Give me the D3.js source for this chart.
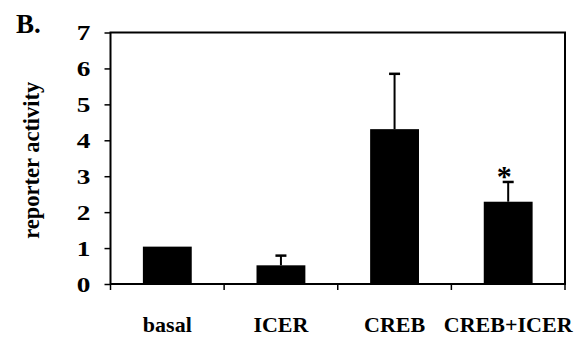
<!DOCTYPE html>
<head>
<meta charset="utf-8">
<style>
body { margin: 0; background: #fff; }
svg { display: block; font-family: "Liberation Serif", "Times New Roman", serif; font-weight: bold; }
.axis path, .axis line { stroke: #000; stroke-width: 1.5px; }
.axis text { font-family: "Liberation Serif", "Times New Roman", serif; font-size: 21px; fill: #000; }
.xlab text { font-size: 22px; fill: #000; }
</style>
</head>
<body>
<svg width="582" height="341"></svg>
<script src="https://d3js.org/d3.v7.min.js"></script>
<script>
var categories = ["basal", "ICER", "CREB", "CREB+ICER"];
var values = [1.04, 0.52, 4.31, 2.29];
var errors = [0, 0.27, 1.54, 0.55];
var starred = [false, false, false, true];
var yTicks = [0, 1, 2, 3, 4, 5, 6, 7];

var svg = d3.select("svg");
var margin = {left: 110.5, right: 17, top: 32.5, bottom: 57};
var width = 582 - margin.left - margin.right,
    height = 341 - margin.top - margin.bottom;

var g = svg.append("g")
    .attr("transform", "translate(" + margin.left + "," + margin.top + ")");

var x = d3.scaleBand().domain(categories).range([0, width]).paddingInner(0.57).paddingOuter(0.285);
var xTick = d3.scaleLinear().domain([0, categories.length]).range([0, width]);
var y = d3.scaleLinear().domain([0, 7]).range([height, 0]);

// frame
g.append("rect")
    .attr("width", width).attr("height", height)
    .attr("fill", "none").attr("stroke", "#000").attr("stroke-width", 2);

// y axis
var yAxis = g.append("g").attr("class", "axis")
    .call(d3.axisLeft(y).tickValues(yTicks).tickSize(6).tickFormat(d3.format("d")));
yAxis.select(".domain").remove();
// the digits in the original are wide, stretch them a bit
yAxis.selectAll("text")
    .attr("x", 0)
    .attr("dy", "0.35em")
    .attr("transform", "translate(-20,0) scale(1.3,1)");

// x ticks at band boundaries
g.append("g").attr("class", "axis")
    .selectAll("line")
    .data(d3.range(categories.length + 1))
    .enter().append("line")
    .attr("x1", function(d) { return xTick(d); })
    .attr("x2", function(d) { return xTick(d); })
    .attr("y1", height).attr("y2", height + 6);

// x labels
g.append("g").attr("class", "xlab")
    .selectAll("text")
    .data(categories)
    .enter().append("text")
    .attr("x", function(d) { return x(d) + x.bandwidth() / 2; })
    .attr("y", height + 48)
    .attr("text-anchor", "middle")
    .text(function(d) { return d; });

// bars
g.selectAll(".bar")
    .data(values)
    .enter().append("rect")
    .attr("class", "bar")
    .attr("x", function(d, i) { return x(categories[i]); })
    .attr("width", x.bandwidth())
    .attr("y", function(d) { return y(d); })
    .attr("height", function(d) { return height - y(d); })
    .attr("fill", "#000");

// error bars (upward only)
var err = g.selectAll(".err")
    .data(values.map(function(v, i) { return {v: v, e: errors[i], c: categories[i], s: starred[i]}; })
          .filter(function(d) { return d.e > 0; }))
    .enter().append("g").attr("class", "err");
err.append("line")
    .attr("x1", function(d) { return x(d.c) + x.bandwidth() / 2; })
    .attr("x2", function(d) { return x(d.c) + x.bandwidth() / 2; })
    .attr("y1", function(d) { return y(d.v); })
    .attr("y2", function(d) { return y(d.v + d.e); })
    .attr("stroke", "#000").attr("stroke-width", 2);
err.append("line")
    .attr("x1", function(d) { return x(d.c) + x.bandwidth() / 2 - 5.5; })
    .attr("x2", function(d) { return x(d.c) + x.bandwidth() / 2 + 5.5; })
    .attr("y1", function(d) { return y(d.v + d.e); })
    .attr("y2", function(d) { return y(d.v + d.e); })
    .attr("stroke", "#000").attr("stroke-width", 2.5);

// significance asterisk
err.filter(function(d) { return d.s; })
    .append("text")
    .attr("x", function(d) { return x(d.c) + x.bandwidth() / 2 - 4; })
    .attr("y", function(d) { return y(d.v + d.e) + 4; })
    .attr("text-anchor", "middle")
    .attr("font-size", "30px")
    .text("*");

// y label
svg.append("text")
    .attr("transform", "translate(39," + (margin.top + height / 2 + 2) + ") rotate(-90)")
    .attr("text-anchor", "middle")
    .attr("font-size", "22.5px")
    .text("reporter activity");

// panel letter
svg.append("text")
    .attr("x", 16).attr("y", 33)
    .attr("font-size", "27px")
    .text("B.");
</script>
</body>
</html>
